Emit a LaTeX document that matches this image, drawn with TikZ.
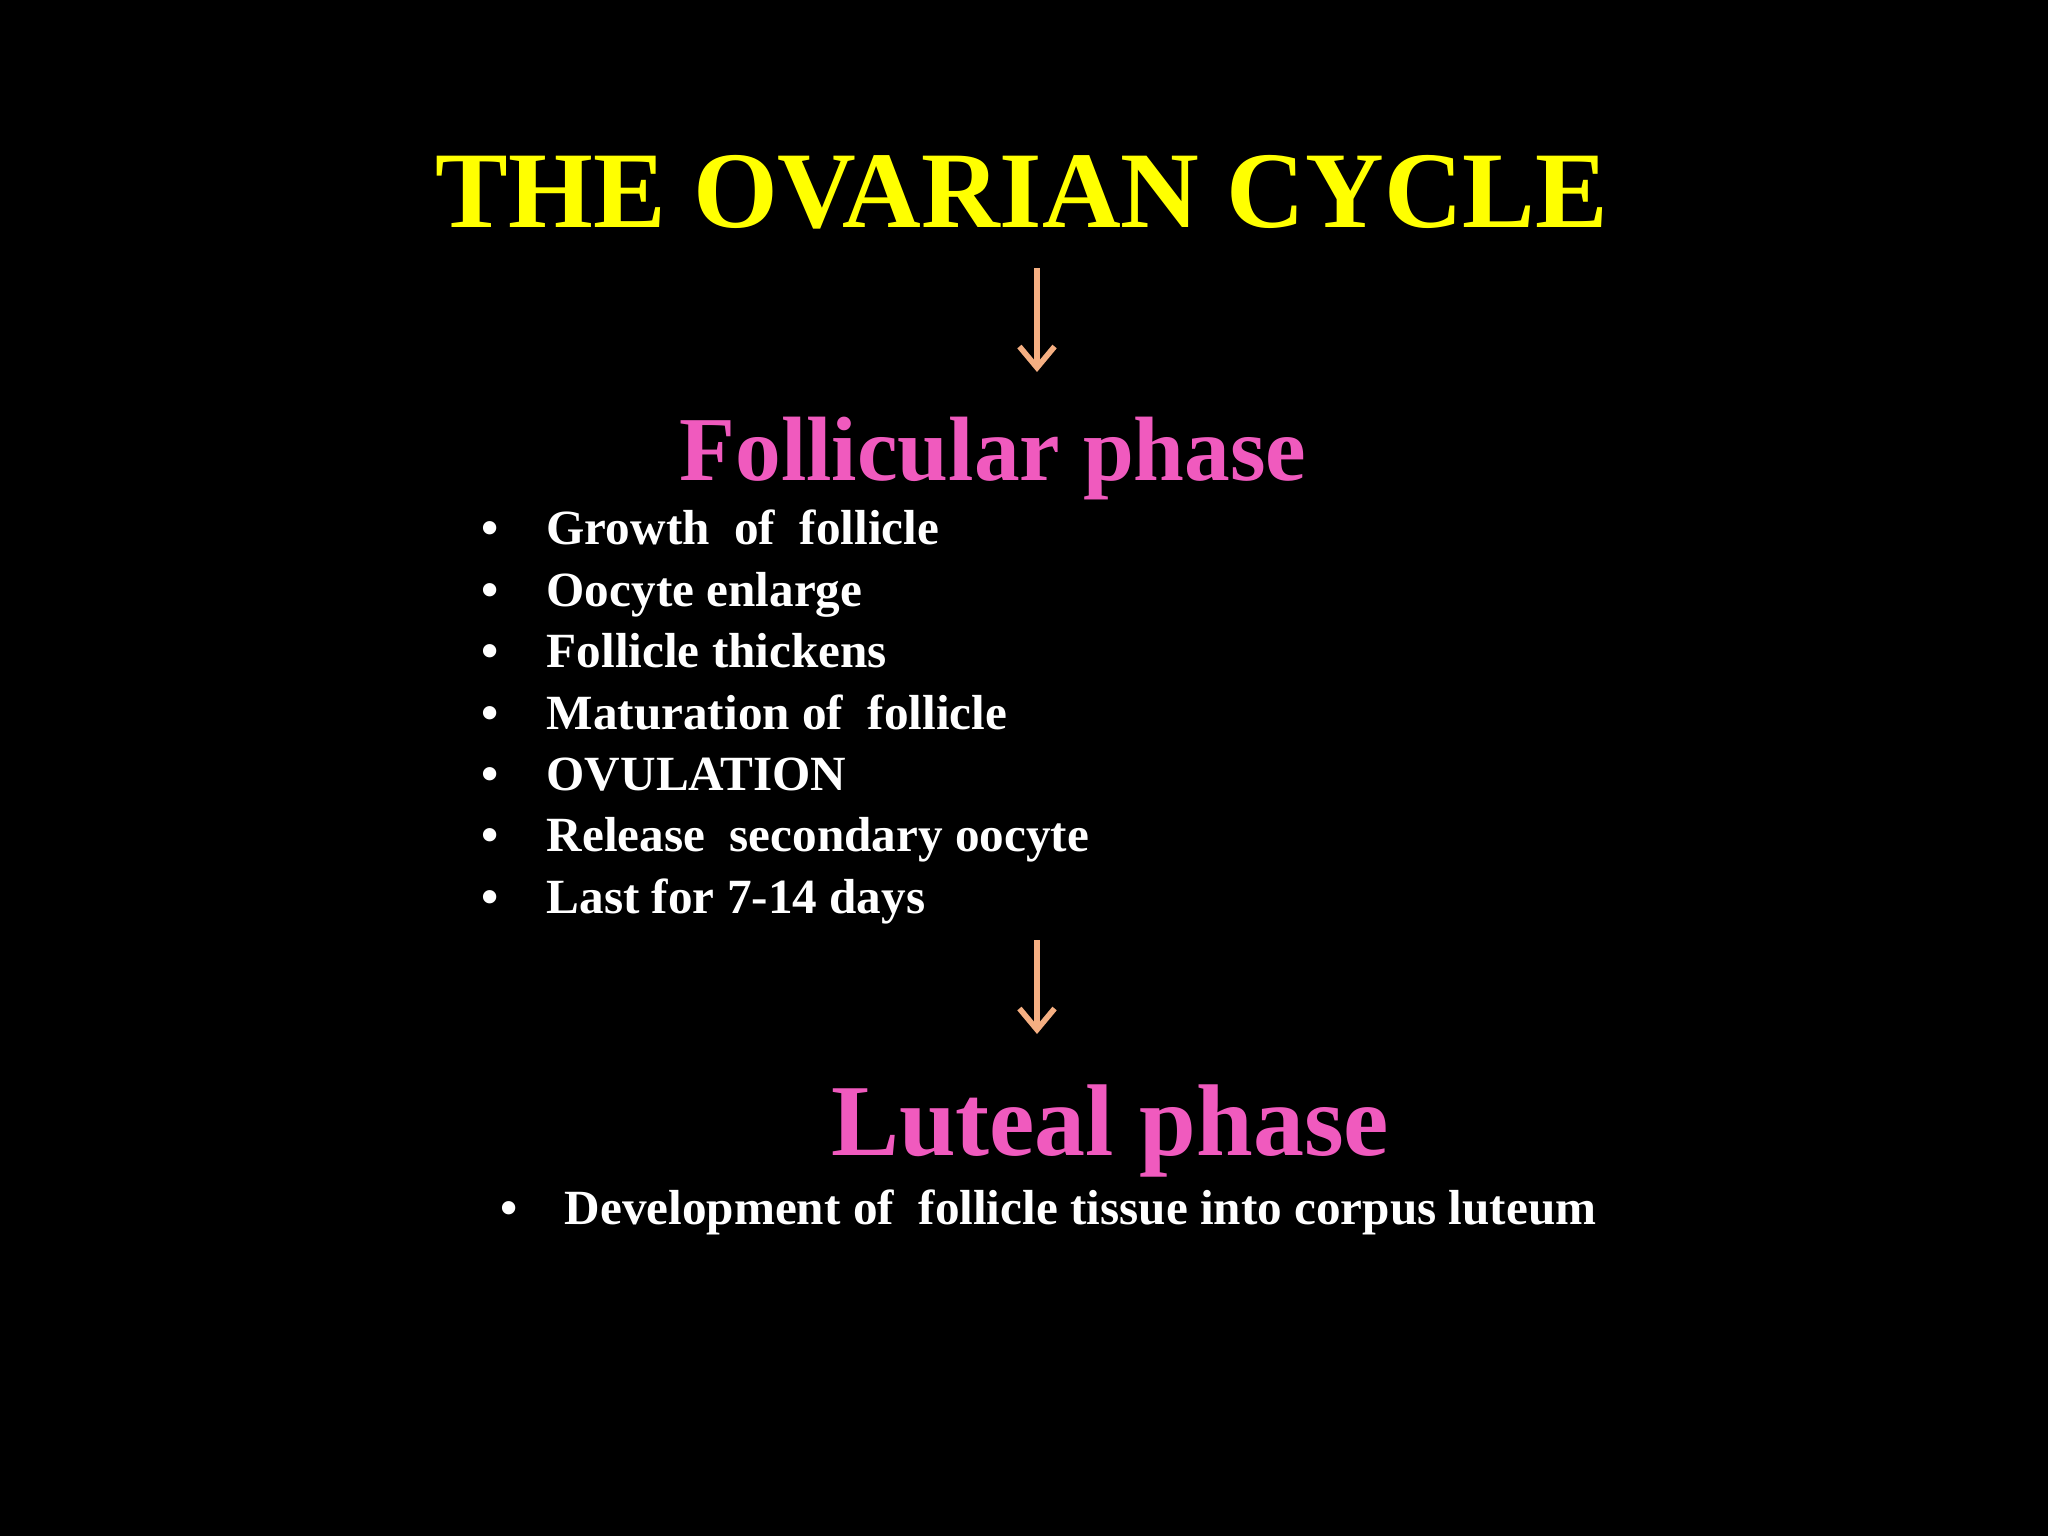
\documentclass[tikz,border=0pt]{standalone}
\usepackage{fontspec}
\setmainfont{Liberation Serif}
\begin{document}
\begin{tikzpicture}[x=1cm,y=1cm,
  bul/.style={anchor=base west,text=white,font=\bfseries\fontsize{14pt}{16pt}\selectfont,inner sep=0pt},
  phase/.style={anchor=base,text=phasepink,font=\bfseries\fontsize{26pt}{30pt}\selectfont,inner sep=0pt},
  arr/.style={draw=arrowpeach,line width=1.6pt,-{Straight Barb[length=6pt,width=10pt]}}]
\definecolor{phasepink}{RGB}{240,90,190}
\definecolor{arrowpeach}{RGB}{245,175,130}
\definecolor{titleyellow}{RGB}{255,255,0}
\usetikzlibrary{arrows.meta}
\fill[black] (0,0) rectangle (20.48,-15.36);
\useasboundingbox (0,0) rectangle (20.48,-15.36);
\node[anchor=base,text=titleyellow,font=\bfseries\fontsize{31pt}{34pt}\selectfont,inner sep=0pt] (title) at (10.22,-2.28) {THE OVARIAN CYCLE};
\coordinate (a1s) at (10.37,-2.68);
\coordinate (a1e) at (10.37,-3.72);
\draw[arr] (a1s) -- (a1e);
\node[phase] (fol) at (9.93,-4.81) {Follicular phase};
\foreach \t [count=\i] in {Growth\ \ of\ \ follicle,Oocyte enlarge,Follicle thickens,Maturation of\ \ follicle,OVULATION,Release\ \ secondary oocyte,Last for 7-14 days}{
  \node[bul] (b\i) at (5.46,{-5.45-0.614*(\i-1)}) {\t};
  \node[bul,anchor=base] (d\i) at (4.9,{-5.45-0.614*(\i-1)}) {•};
}
\coordinate (a2s) at (10.37,-9.40);
\coordinate (a2e) at (10.37,-10.34);
\draw[arr] (a2s) -- (a2e);
\node[phase,font=\bfseries\fontsize{29pt}{32pt}\selectfont] (lut) at (11.1,-11.55) {Luteal phase};
\node[bul] (l1) at (5.64,-12.24) {Development of\ \ follicle tissue into corpus luteum};
\node[bul,anchor=base] (ld) at (5.09,-12.24) {•};
\end{tikzpicture}
\end{document}
